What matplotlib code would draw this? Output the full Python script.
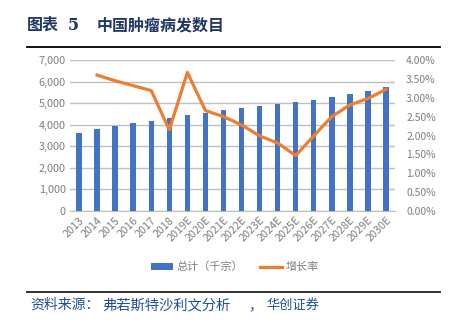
import matplotlib.pyplot as plt
from matplotlib.ticker import FuncFormatter

plt.rcParams['font.family'] = ['Noto Sans CJK SC', 'DejaVu Sans']

years = ['2013', '2014', '2015', '2016', '2017', '2018', '2019E', '2020E', '2021E',
         '2022E', '2023E', '2024E', '2025E', '2026E', '2027E', '2028E', '2029E', '2030E']
totals = [3630, 3800, 3940, 4070, 4190, 4300, 4430, 4560, 4670,
          4780, 4870, 4960, 5040, 5130, 5270, 5420, 5560, 5730]
growth = [None, 3.60, 3.45, 3.32, 3.19, 2.15, 3.67, 2.66, 2.50,
          2.28, 1.99, 1.80, 1.47, 1.99, 2.50, 2.81, 2.98, 3.22]

bar_color = '#4472C4'
line_color = '#ED7D31'
grey = '#7F7F7F'
navy = '#1F3864'


def plot():
    fig = plt.figure(figsize=(4.55, 3.31), dpi=100)
    ax = fig.add_axes([70 / 455, 1 - 211 / 331, 325 / 455, 151 / 331])
    x = list(range(len(years)))
    ax.bar(x, totals, width=0.3, color=bar_color, zorder=3, label='总计（千宗）')
    ax.set_ylim(0, 7000)
    ax.set_xlim(-0.5, len(years) - 0.5)
    ax.set_yticks(range(0, 7001, 1000))
    ax.yaxis.set_major_formatter(FuncFormatter(lambda v, p: f'{int(v):,}'))
    ax.grid(axis='y', color='#BFBFBF', linewidth=1, zorder=0)
    for s in ['top', 'left', 'right']:
        ax.spines[s].set_visible(False)
    ax.spines['bottom'].set_color('#BFBFBF')
    ax.set_xticks(x)
    ax.set_xticklabels(years, rotation=45, ha='right', rotation_mode='anchor')
    ax.tick_params(axis='both', length=0, colors=grey, labelsize=7.8, pad=3)

    ax2 = ax.twinx()
    gx = [i for i, g in zip(x, growth) if g is not None]
    gy = [g for g in growth if g is not None]
    ax2.plot(gx, gy, color=line_color, linewidth=2.3, zorder=4, label='增长率')
    ax2.set_ylim(0, 4)
    ax2.set_yticks([i * 0.5 for i in range(9)])
    ax2.yaxis.set_major_formatter(FuncFormatter(lambda v, p: f'{v:.2f}%'))
    for s in ax2.spines.values():
        s.set_visible(False)
    ax2.tick_params(axis='y', length=0, colors=grey, labelsize=7.5, pad=8)

    h1, l1 = ax.get_legend_handles_labels()
    h2, l2 = ax2.get_legend_handles_labels()
    fig.legend(h1 + h2, l1 + l2, loc='center', bbox_to_anchor=(235 / 455, 1 - 267 / 331),
               ncol=2, frameon=False, fontsize=8, labelcolor=grey,
               handlelength=2.0, handleheight=0.5, handletextpad=0.3, columnspacing=1.5)

    # title
    fig.text(27 / 455, 1 - 25 / 331, '图表', fontsize=11.5,
             fontweight='bold', color=navy, va='center')
    fig.text(68 / 455, 1 - 25 / 331, '5', fontsize=11.5, family='DejaVu Serif',
             fontweight='bold', color=navy, va='center')
    fig.text(97 / 455, 1 - 25 / 331, '中国肿瘤病发数目', fontsize=11.5,
             fontweight='bold', color=navy, va='center')
    fig.add_artist(plt.Line2D([27 / 455, 440 / 455], [1 - 47 / 331] * 2,
                              color='black', linewidth=1.3))
    fig.add_artist(plt.Line2D([27 / 455, 440 / 455], [1 - 292 / 331] * 2,
                              color='#222222', linewidth=1.3))

    # source
    src = '#1F4E99'
    fig.text(30 / 455, 1 - 305 / 331, '资料来源：', fontsize=10,
             style='italic', color=src, va='center')
    fig.text(102 / 455, 1 - 305 / 331, '弗若斯特沙利文分析', fontsize=10.3,
             style='italic', color=src, va='center')
    fig.text(248 / 455, 1 - 305 / 331, '，', fontsize=10,
             style='italic', color=src, va='center')
    fig.text(266 / 455, 1 - 305 / 331, '华创证券', fontsize=9.5,
             style='italic', color=src, va='center')
    fig.savefig('out.png', dpi=100)


plot()
